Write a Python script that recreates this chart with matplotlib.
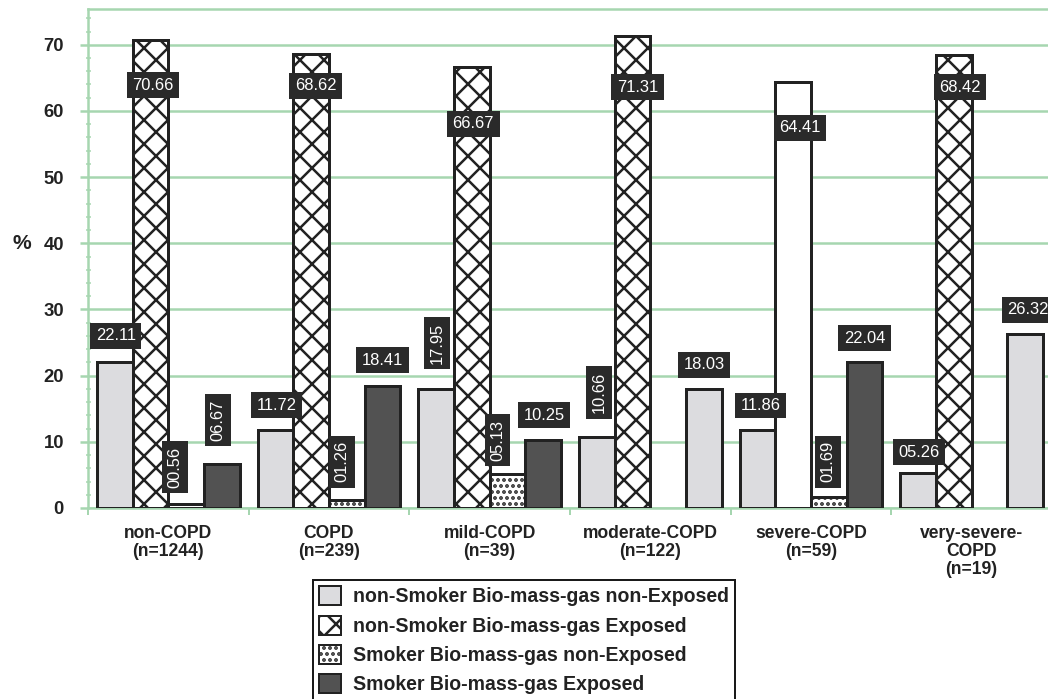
import matplotlib
matplotlib.use('Agg')
import matplotlib.pyplot as plt
from matplotlib.patches import Patch
from matplotlib.ticker import MultipleLocator
import numpy as np

plt.rcParams['font.family'] = ['Liberation Sans', 'DejaVu Sans']
plt.rcParams['hatch.linewidth'] = 2.5

categories = ['non-COPD\n(n=1244)', 'COPD\n(n=239)', 'mild-COPD\n(n=39)',
              'moderate-COPD\n(n=122)', 'severe-COPD\n(n=59)',
              'very-severe-\nCOPD\n(n=19)']
series_names = ['non-Smoker Bio-mass-gas non-Exposed',
                'non-Smoker Bio-mass-gas Exposed',
                'Smoker Bio-mass-gas non-Exposed',
                'Smoker Bio-mass-gas Exposed']
nonsmoker_nonexposed = [22.11, 11.72, 17.95, 10.66, 11.86, 5.26]
nonsmoker_exposed = [70.66, 68.62, 66.67, 71.31, 64.41, 68.42]
smoker_nonexposed = [0.56, 1.26, 5.13, 0, 1.69, 0]
smoker_exposed = [6.67, 18.41, 10.25, 18.03, 22.04, 26.32]
series = [nonsmoker_nonexposed, nonsmoker_exposed, smoker_nonexposed, smoker_exposed]
y_ticks = [0, 10, 20, 30, 40, 50, 60, 70]

# styles
GREEN = '#a6d6b0'
EDGE = '#222222'
LIGHT = dict(fc='#dcdcdf', hatch=None)
CROSS = dict(fc='white', hatch='x')
DOTS = dict(fc='white', hatch='..')
DARK = dict(fc='#525252', hatch=None)
PLAIN = dict(fc='white', hatch=None)
series_style = [LIGHT, CROSS, DOTS, DARK]
# bars that came out differently in the printed figure
style_override = {(3, 3): LIGHT, (5, 3): LIGHT, (4, 1): PLAIN}

# label layout: (dx, dy) offset in px from bar top, rotated?
label_offsets = [
    [(1, 26), (1, 25), (1, 46), (2, 45), (3, 24), (1, 21)],
    [(2.5, -45), (4.5, -32), (1.5, -57), (5, -51), (7, -46), (6, -32)],
    [(-11, 37), (-5, 38), (-10, 34), (0, 0), (-1, 35), (0, 0)],
    [(-3.5, 44), (0, 26), (1, 25), (0, 24), (0, 24), (3, 24)],
]
label_rotated = [
    [False, False, True, True, False, False],
    [False] * 6,
    [True] * 6,
    [True, False, False, False, False, False],
]

W, H = 1048, 699
fig = plt.figure(figsize=(W / 72, H / 72), dpi=72)
ax = fig.add_axes([88 / W, 1 - 508 / H, 964 / W, 499 / H])

n = len(categories)
bw = 0.222
for j, vals in enumerate(series):
    x = np.arange(n) + 0.5 + (j - 1.5) * bw
    bars = ax.bar(x, vals, width=bw, edgecolor=EDGE, linewidth=3, zorder=3)
    for i, b in enumerate(bars):
        st = style_override.get((i, j), series_style[j])
        b.set_facecolor(st['fc'])
        b.set_hatch(st['hatch'])
        if vals[i] == 0:
            b.set_visible(False)
            continue
        dx, dy = label_offsets[j][i]
        ax.annotate(f'{vals[i]:05.2f}', xy=(x[i], vals[i]), xytext=(dx, dy),
                    textcoords='offset points', ha='center', va='center',
                    rotation=90 if label_rotated[j][i] else 0,
                    color='white', fontsize=16.5, zorder=5,
                    bbox=dict(boxstyle='square,pad=0.33', fc='#2a2a2a', ec='none'))

ax.set_xlim(0, n)
ax.set_ylim(0, 75.4)
ax.set_yticks(y_ticks)
ax.set_yticklabels([str(t) for t in y_ticks], fontsize=18.5, fontweight='bold', color='#222222')
ax.yaxis.set_minor_locator(MultipleLocator(2))
ax.tick_params(axis='y', which='major', direction='out', length=8, width=2.5,
               color=GREEN, pad=16)
ax.tick_params(axis='y', which='minor', direction='inout', length=5, width=1.5, color=GREEN)

ax.set_xticks(np.arange(n + 1))
ax.set_xticklabels([])
ax.set_xticks(np.arange(n) + 0.5, minor=True)
ax.set_xticklabels(categories, minor=True, fontsize=17.5, fontweight='bold',
                   color='#222222', linespacing=1.08)
ax.tick_params(axis='x', which='major', direction='out', length=7, width=2, color=GREEN)
ax.tick_params(axis='x', which='minor', length=0, pad=17)

ax.yaxis.grid(True, color=GREEN, linewidth=2.5)
ax.set_axisbelow(True)
for s in ['left', 'bottom', 'top']:
    ax.spines[s].set_color(GREEN)
    ax.spines[s].set_linewidth(2.5)
ax.spines['right'].set_visible(False)

ax.text(-66 / 964, 40, '%', transform=ax.get_yaxis_transform(), ha='center',
        va='center', fontsize=21, fontweight='bold', color='#222222')

handles = [Patch(facecolor=s['fc'], edgecolor=EDGE, hatch=s['hatch'], linewidth=2)
           for s in series_style]
leg = fig.legend(handles, series_names, loc='upper left',
                 bbox_to_anchor=(313 / W, 1 - 580 / H), bbox_transform=fig.transFigure,
                 frameon=True, fancybox=False, edgecolor='#1a1a1a', framealpha=1,
                 borderaxespad=0, prop=dict(weight='bold', size=19.5),
                 handlelength=1.1, handleheight=1.1, handletextpad=0.6,
                 labelspacing=0.48, borderpad=0.33)
leg.get_frame().set_linewidth(2)
for t in leg.get_texts():
    t.set_color('#222222')

fig.savefig('out.png', dpi=72)
